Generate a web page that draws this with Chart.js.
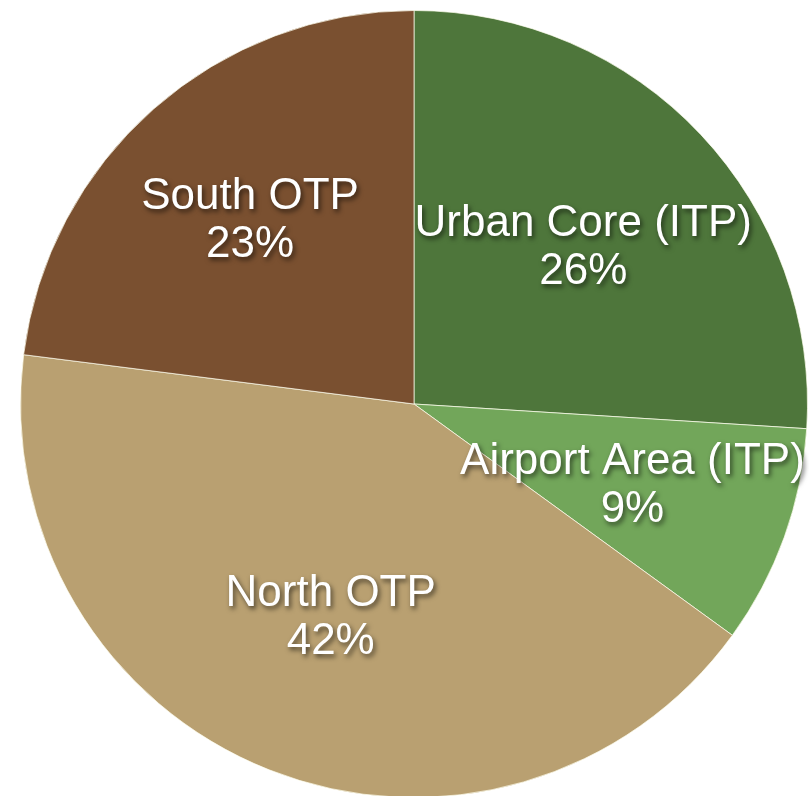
<!DOCTYPE html>
<html>
<head>
<meta charset="utf-8">
<script src="https://cdn.jsdelivr.net/npm/chart.js@4/dist/chart.umd.min.js"></script>
<style>
html,body{margin:0;padding:0;background:#fff;overflow:hidden;}
canvas{display:block;}
</style>
</head>
<body>
<canvas id="c" width="809" height="798"></canvas>
<script>
const categories = ["Urban Core (ITP)", "Airport Area (ITP)", "North OTP", "South OTP"];
const shares = [26, 9, 42, 23];
const sliceColors = ["#4e763b", "#72a65a", "#b9a071", "#7a5030"];

const labelPlugin = {
  id: 'sliceLabels',
  afterDatasetsDraw(chart, args, opts) {
    const ctx = chart.ctx;
    const meta = chart.getDatasetMeta(0);
    meta.data.forEach((arc, i) => {
      const p = arc.getProps(['x','y','startAngle','endAngle','outerRadius'], true);
      const mid = (p.startAngle + p.endAngle) / 2;
      const f = opts.radial[i];
      const cx = p.x + Math.cos(mid) * p.outerRadius * f;
      const cy = p.y + Math.sin(mid) * p.outerRadius * f + 3;
      ctx.save();
      ctx.font = '44px "Liberation Sans", Arial, sans-serif';
      ctx.textAlign = 'center';
      ctx.textBaseline = 'middle';
      ctx.fillStyle = '#ffffff';
      ctx.shadowColor = 'rgba(0,0,0,0.6)';
      ctx.shadowOffsetX = 2;
      ctx.shadowOffsetY = 3;
      ctx.shadowBlur = 5;
      ctx.fillText(categories[i], cx, cy - 24);
      ctx.fillText(shares[i] + '%', cx, cy + 24);
      ctx.restore();
    });
  }
};

new Chart(document.getElementById('c'), {
  type: 'pie',
  data: {
    labels: categories,
    datasets: [{
      data: shares,
      backgroundColor: sliceColors,
      borderColor: 'rgba(255,255,240,0.7)',
      borderWidth: 1
    }]
  },
  options: {
    responsive: false,
    animation: false,
    layout: { padding: { left: 20, top: 10, right: 1, bottom: 0 } },
    plugins: {
      legend: { display: false },
      tooltip: { enabled: false },
      sliceLabels: { radial: [0.59, 0.59, 0.575, 0.63] }
    }
  },
  plugins: [labelPlugin]
});
</script>
</body>
</html>
